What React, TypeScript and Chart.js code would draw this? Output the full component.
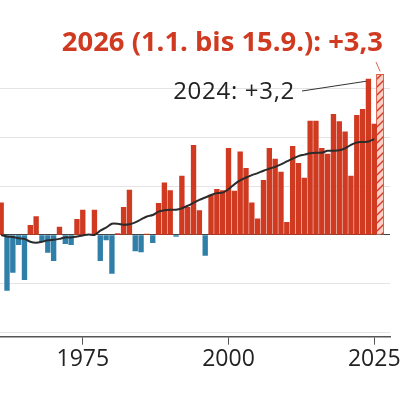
import { useEffect, useRef } from "react";
import { Chart, registerables } from "chart.js";

Chart.register(...registerables);

const FONT = '"Open Sans", sans-serif';
const RED = "#cf3a21";
const BLUE = "#2f7fa8";

const firstYear = 1961;
const anomalies = [
  0.66, -1.14, -0.77, -0.2, -0.92, 0.2, 0.38, -0.14, -0.36, -0.53,
  0.16, -0.18, -0.2, 0.32, 0.51, 0.01, 0.51, -0.53, -0.1, -0.79,
  0.03, 0.57, 0.92, -0.33, -0.35, 0.02, -0.16, 0.65, 1.07, 0.91,
  -0.03, 1.21, 0.57, 1.84, 0.5, -0.42, 0.82, 0.94, 0.91, 1.78,
  0.9, 1.71, 1.37, 0.66, 0.33, 1.12, 1.78, 1.56, 1.29, 0.26,
  1.82, 1.47, 1.17, 2.34, 2.34, 1.78, 1.66, 2.48, 2.33, 2.12,
  1.21, 2.46, 2.58, 3.2, 2.28,
];
const smoothed = [
  0, -0.03, -0.04, -0.07, -0.08, -0.14, -0.16, -0.14, -0.11, -0.1,
  -0.08, -0.05, -0.05, -0.03, -0.01, 0.01, 0, 0.09, 0.15, 0.23,
  0.23, 0.21, 0.22, 0.26, 0.32, 0.38, 0.41, 0.48, 0.51, 0.52,
  0.52, 0.55, 0.6, 0.66, 0.72, 0.77, 0.82, 0.86, 0.87, 0.94,
  1.04, 1.12, 1.18, 1.23, 1.27, 1.32, 1.36, 1.4, 1.45, 1.51,
  1.57, 1.62, 1.65, 1.68, 1.69, 1.69, 1.73, 1.73, 1.74, 1.78,
  1.85, 1.9, 1.91, 1.92, 1.97,
];
const partialYear = 2026;
const partialValue = 3.3;
const xTicks = [1975, 2000, 2025];
const yTicks = [-2, -1, 0, 1, 2, 3];
const titleText = "2026 (1.1. bis 15.9.): +3,3";
const noteText = "2024: +3,2";

function hatch() {
  const c = document.createElement("canvas");
  c.width = 8;
  c.height = 8;
  const g = c.getContext("2d")!;
  g.fillStyle = "#fbcfc3";
  g.fillRect(0, 0, 8, 8);
  g.strokeStyle = RED;
  g.lineWidth = 1.4;
  g.beginPath();
  g.moveTo(-1, 9);
  g.lineTo(9, -1);
  g.moveTo(-4, 4);
  g.lineTo(4, -4);
  g.moveTo(4, 12);
  g.lineTo(12, 4);
  g.stroke();
  return g.createPattern(c, "repeat")!;
}

const labels = {
  id: "labels",
  afterDraw(chart: any) {
    const { ctx, scales } = chart;
    const { x, y } = scales;
    ctx.save();
    ctx.textBaseline = "alphabetic";
    ctx.textAlign = "right";
    ctx.fillStyle = RED;
    ctx.font = `bold 27.4px ${FONT}`;
    ctx.fillText(titleText, 383, 51);
    ctx.fillStyle = "#222";
    ctx.font = `24px ${FONT}`;
    ctx.letterSpacing = "0.7px";
    ctx.fillText(noteText, 295, 99);
    ctx.letterSpacing = "0px";

    ctx.strokeStyle = "#333";
    ctx.lineWidth = 1;
    ctx.beginPath();
    ctx.moveTo(302, 91);
    ctx.lineTo(x.getPixelForValue(2024) - 2, y.getPixelForValue(3.2) + 2);
    ctx.stroke();

    ctx.strokeStyle = "#d9604a";
    ctx.beginPath();
    ctx.moveTo(376, 62);
    ctx.lineTo(x.getPixelForValue(partialYear), y.getPixelForValue(partialValue) - 3);
    ctx.stroke();
    ctx.restore();
  },
};

export default function App() {
  const canvasRef = useRef<HTMLCanvasElement>(null);

  useEffect(() => {
    const chart = new Chart(canvasRef.current!, {
      type: "bar",
      plugins: [labels],
      data: {
        datasets: [
          {
            type: "line",
            order: 0,
            data: smoothed.map((v, i) => ({ x: firstYear + i, y: v })),
            borderColor: "#2b2b2b",
            borderWidth: 2,
            pointRadius: 0,
            tension: 0.3,
          },
          {
            order: 1,
            grouped: false,
            barThickness: 4.7,
            data: anomalies.map((v, i) => ({ x: firstYear + i, y: v })),
            backgroundColor: anomalies.map((v) => (v < 0 ? BLUE : RED)),
          },
          {
            order: 1,
            grouped: false,
            barThickness: 7.4,
            data: [{ x: partialYear, y: partialValue }],
            backgroundColor: hatch(),
            borderColor: "#dc5a42",
            borderWidth: 1,
          },
        ],
      } as any,
      options: {
        animation: false,
        responsive: false,
        layout: { padding: { top: 64.6, right: 10, left: 0, bottom: 0 } },
        plugins: { legend: { display: false }, tooltip: { enabled: false }, title: { display: false } },
        scales: {
          x: {
            type: "linear",
            offset: false,
            min: 1960.8,
            max: 2027.7,
            afterBuildTicks: (s: any) => {
              s.ticks = xTicks.map((value) => ({ value }));
            },
            afterFit: (s: any) => {
              s.height = 63.3;
              s.paddingLeft = 0;
              s.paddingRight = 0;
            },
            border: { color: "#555", width: 1.5 },
            grid: { offset: false, drawOnChartArea: false, color: "#555", tickLength: 8, tickWidth: 1 },
            ticks: {
              autoSkip: false,
              maxRotation: 0,
              color: "#222",
              padding: 1,
              font: { family: FONT, size: 23 },
              callback: (v: any) => String(v),
            },
          },
          y: {
            min: -2.09,
            max: 3.5,
            afterBuildTicks: (s: any) => {
              s.ticks = yTicks.map((value) => ({ value }));
            },
            afterFit: (s: any) => {
              s.width = 0;
            },
            border: { display: false },
            grid: {
              drawTicks: false,
              lineWidth: 1,
              color: (c: any) => (c.tick.value === 0 ? "#444" : "#e4e4e4"),
            },
            ticks: { display: false },
          },
        },
      },
    } as any);
    return () => chart.destroy();
  }, []);

  return (
    <div style={{ position: "absolute", left: 0, top: 0, width: 400, height: 400, overflow: "hidden", background: "#fff" }}>
      <canvas ref={canvasRef} width={400} height={400} style={{ display: "block" }} />
    </div>
  );
}
